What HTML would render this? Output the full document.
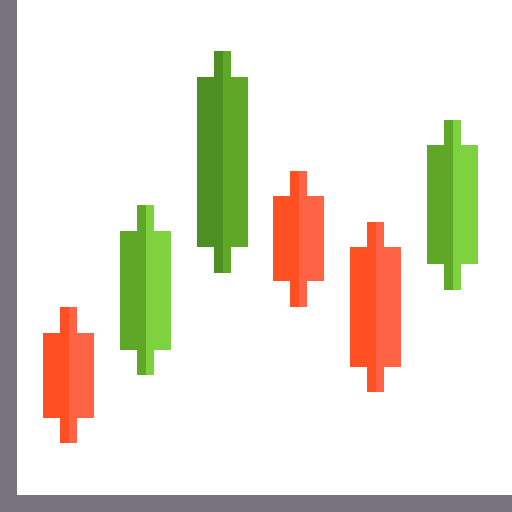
<!DOCTYPE html>
<html><head><meta charset="utf-8"><style>
html,body{margin:0;padding:0;background:#fff;}
svg{display:block;}
</style></head><body>
<svg id="chart" width="512" height="512" viewBox="0 0 512 512" xmlns="http://www.w3.org/2000/svg">
<rect x="0" y="0" width="512" height="512" fill="#fff"/>
<g id="candles"></g>
<rect x="0" y="0" width="17" height="512" fill="#77747e"/>
<rect x="0" y="495" width="512" height="17" fill="#77747e"/>
</svg>
<script>
const categories = ["c1","c2","c3","c4","c5","c6"];
const openVals  = [161,144,247,298,247,230];
const closeVals = [76,263,417,213,127,349];
const highVals  = [187,289,443,323,272,374];
const lowVals   = [51,119,221,187,102,204];

function xScale(i){ return 43 + i*76.8; }
function yScale(v){ return 494 - v; }

const g = document.getElementById('candles');
const NS = 'http://www.w3.org/2000/svg';
function rect(x,y,w,h,fill,name){
  const r = document.createElementNS(NS,'rect');
  r.setAttribute('x',x); r.setAttribute('y',y);
  r.setAttribute('width',w); r.setAttribute('height',h);
  r.setAttribute('fill',fill);
  
  
  g.appendChild(r);
}
categories.forEach((c,i)=>{
  const o=openVals[i], cl=closeVals[i], hi=highVals[i], lo=lowVals[i];
  const up = cl>o;
  let dark, light;
  if(!up){ dark='#ff5023'; light='#ff6346'; }
  else if(i===2){ dark='#4e8f21'; light='#5fa827'; }
  else { dark='#5fa827'; light='#7ed23f'; }
  const x = Math.round(xScale(i));
  const bt = yScale(Math.max(o,cl)), bb = yScale(Math.min(o,cl));
  const wt = yScale(hi), wb = yScale(lo);
  rect(x+17, wt, 9, wb-wt, dark, 'candle-wick-left');
  rect(x+26, wt, 8, wb-wt, light, 'candle-wick-right');
  rect(x, bt, 26, bb-bt, dark, 'candle-body-left');
  rect(x+26, bt, 25, bb-bt, light, 'candle-body-right');
});
</script>
</body></html>
